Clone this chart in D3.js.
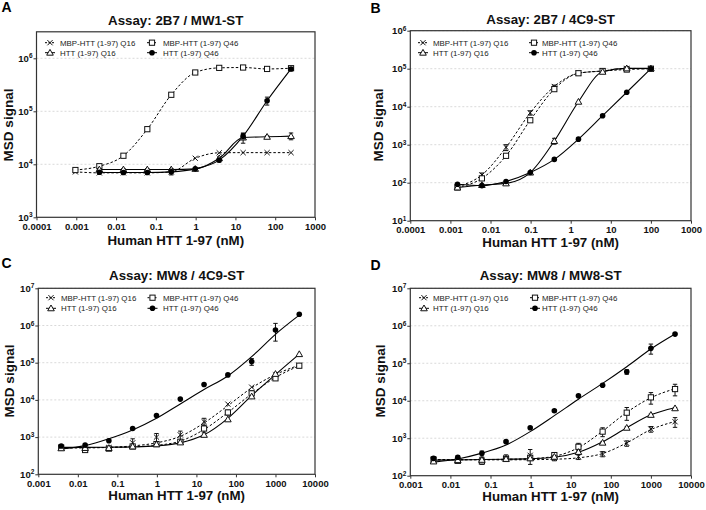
<!DOCTYPE html>
<html><head><meta charset="utf-8">
<script src="https://cdn.jsdelivr.net/npm/d3@7"></script>
<style>body{margin:0;background:#fff}</style>
</head><body><svg id="c" width="706" height="510"></svg>
<script>
// ---------- DATA ----------
const seriesNames = ["MBP-HTT (1-97) Q16", "MBP-HTT (1-97) Q46", "HTT (1-97) Q16", "HTT (1-97) Q46"];
const titles = ["Assay: 2B7 / MW1-ST", "Assay: 2B7 / 4C9-ST", "Assay: MW8 / 4C9-ST", "Assay: MW8 / MW8-ST"];
const panelLetters = ["A", "B", "C", "D"];
const xAxisTitle = "Human HTT 1-97 (nM)";
const yAxisTitle = "MSD signal";

const xTicksAB = [1e-4, 1e-3, 1e-2, 1e-1, 1, 10, 100, 1000];
const xLabelsAB = ["0.0001", "0.001", "0.01", "0.1", "1", "10", "100", "1000"];
const xTicksCD = [1e-3, 1e-2, 1e-1, 1, 10, 100, 1000, 10000];
const xLabelsCD = ["0.001", "0.01", "0.1", "1", "10", "100", "1000", "10000"];
const yTicksA = [1e3, 1e4, 1e5, 1e6];
const yTicksB = [1e1, 1e2, 1e3, 1e4, 1e5, 1e6];
const yTicksCD = [1e2, 1e3, 1e4, 1e5, 1e6, 1e7];

// Panel A
const dosesA = [0.00095, 0.0038, 0.0153, 0.061, 0.244, 0.977, 3.91, 15.6, 62.5, 250];
const mbpQ16A = [7200, 6900, 6900, 6900, 7200, 13000, 16500, 16600, 16600, 16600];
const mbpQ46A = [7800, 9200, 14500, 46000, 205000, 540000, 660000, 670000, 630000, 650000];
const httQ16A = [null, 8000, 8000, 8000, 8000, 8200, 13000, 32000, 33000, 34000];
const httQ46A = [null, 7100, 7000, 7000, 7200, 8200, 12000, 34000, 158000, 630000];
const errHttQ16A = [null, 300, 300, 300, 300, 300, 800, 7000, 1500, 5000];
const errHttQ46A = [null, 300, 300, 300, 900, 300, 1000, 4000, 27000, 40000];

// Panel B
const dosesB = [0.0015, 0.0061, 0.0244, 0.098, 0.39, 1.56, 6.25, 25, 100];
const mbpQ16B = [79, 160, 850, 6900, 34000, 76000, 87000, 102000, 98000];
const mbpQ46B = [75, 130, 510, 4400, 29000, 76000, 87000, 95000, 100000];
const httQ16B = [75, 87, 96, 185, 1250, 13500, 83000, 102000, 102000];
const httQ46B = [91, 84, 108, 185, 410, 1400, 5800, 24000, 100000];
const errMbpQ16B = [0, 20, 150, 900, 3000, 0, 0, 8000, 0];
const errHttQ16B = [0, 0, 0, 0, 220, 0, 0, 0, 0];

// Panels C and D
const dosesCD = [0.0038, 0.0153, 0.061, 0.244, 0.977, 3.91, 15.6, 62.5, 250, 1000, 4000];
const mbpQ16C = [520, 470, 520, 700, 1000, 1150, 2600, 7700, 22000, 47000, 85000];
const mbpQ46C = [520, 450, 490, 560, 650, 750, 1700, 4600, 15000, 38000, 83000];
const httQ16C = [500, 510, 510, 560, 640, 720, 1150, 3000, 12400, 50000, 170000];
const httQ46C = [575, 610, 800, 1700, 3800, 10500, 26000, 47000, 107000, 760000, 2000000];
const fitMbpQ16C = [510, 515, 530, 580, 700, 1050, 2400, 7000, 21000, 48000, 86000];
const fitMbpQ46C = [520, 520, 525, 545, 600, 780, 1600, 4600, 14500, 40000, 83000];
const fitHttQ16C = [530, 530, 535, 545, 580, 700, 1150, 3200, 13000, 48000, 170000];
const fitHttQ46C = [480, 590, 900, 1550, 3200, 7800, 19000, 44000, 145000, 580000, 1900000];
const errMbpQ16C = [0, 0, 0, 200, 250, 300, 600, 0, 0, 0, 0];
const errMbpQ46C = [0, 40, 50, 50, 60, 80, 400, 700, 2500, 0, 0];
const errHttQ46C = [0, 0, 0, 0, 0, 0, 0, 0, 22000, 380000, 0];

const mbpQ16D = [260, 250, 270, 300, 350, 290, 320, 380, 730, 1750, 2750];
const mbpQ46D = [270, 250, 240, 280, 300, 355, 590, 1500, 4800, 12300, 20500];
const httQ16D = [240, 260, 265, 280, 290, 320, 430, 760, 1900, 4200, 6300];
const httQ46D = [290, 310, 395, 810, 1900, 5400, 13500, 26000, 59000, 250000, 600000];
const fitMbpQ16D = [265, 265, 265, 265, 268, 275, 300, 390, 750, 1700, 2800];
const fitMbpQ46D = [270, 270, 270, 275, 285, 330, 560, 1550, 4900, 12000, 21000];
const fitHttQ16D = [260, 265, 270, 275, 285, 310, 420, 800, 1900, 4200, 6500];
const fitHttQ46D = [230, 280, 400, 660, 1500, 4000, 11000, 29000, 81000, 240000, 600000];
const errMbpQ16D = [20, 20, 30, 60, 150, 40, 50, 60, 120, 300, 800];
const errMbpQ46D = [30, 30, 40, 40, 40, 50, 140, 400, 1800, 4200, 7000];
const errHttQ16D = [20, 20, 20, 20, 20, 20, 30, 50, 100, 200, 300];
const errHttQ46D = [30, 30, 60, 40, 100, 300, 500, 1500, 8000, 75000, 20000];

// ---------- STYLE / LAYOUT ----------
const FONT = "'Liberation Sans', Arial, Helvetica, sans-serif";
const kinds = ["x", "sq", "tri", "dot"];
const dashedSeries = [true, true, false, false];

const panels = [
  { letter: panelLetters[0], lp: [1.5, 11.7], title: titles[0], tpos: [175.7, 24.5],
    box: { l: 36.5, r: 315, t: 31.8, b: 217.3 }, xDomain: [1e-4, 1e3], yDomain: [1e3, Math.pow(10, 6.5)],
    xTicks: xTicksAB, xLabels: xLabelsAB, yTicks: yTicksA, xOff: 13, xlabY: 245, ylab: [12.8, 125],
    leg: { x1: 50, t1: 60, x2: 152, t2: 163, y1: 42.7, y2: 52.7 },
    doses: dosesA, values: [mbpQ16A, mbpQ46A, httQ16A, httQ46A], fits: [null, null, null, null],
    errs: [null, null, errHttQ16A, errHttQ46A] },
  { letter: panelLetters[1], lp: [370.5, 13.3], title: titles[1], tpos: [550.6, 23.5],
    box: { l: 410.3, r: 691, t: 30.7, b: 220.7 }, xDomain: [1e-4, 1e3], yDomain: [1e1, 1e6],
    xTicks: xTicksAB, xLabels: xLabelsAB, yTicks: yTicksB, xOff: 12.2, xlabY: 246.8, ylab: [383, 125],
    leg: { x1: 423, t1: 433, x2: 534, t2: 542, y1: 42.7, y2: 52.7 },
    doses: dosesB, values: [mbpQ16B, mbpQ46B, httQ16B, httQ46B], fits: [null, null, null, null],
    errs: [errMbpQ16B, null, errHttQ16B, null] },
  { letter: panelLetters[2], lp: [1.5, 268], title: titles[2], tpos: [176.7, 279.7],
    box: { l: 38.3, r: 315, t: 288.3, b: 474.3 }, xDomain: [1e-3, 1e4], yDomain: [1e2, 1e7],
    xTicks: xTicksCD, xLabels: xLabelsCD, yTicks: yTicksCD, xOff: 13, xlabY: 500, ylab: [13.5, 381],
    leg: { x1: 51, t1: 61, x2: 152.5, t2: 163, y1: 297.7, y2: 308.3 },
    doses: dosesCD, values: [mbpQ16C, mbpQ46C, httQ16C, httQ46C],
    fits: [fitMbpQ16C, fitMbpQ46C, fitHttQ16C, fitHttQ46C],
    errs: [errMbpQ16C, errMbpQ46C, null, errHttQ46C] },
  { letter: panelLetters[3], lp: [370.5, 270], title: titles[3], tpos: [550.6, 279.7],
    box: { l: 410.3, r: 691, t: 288.3, b: 475.7 }, xDomain: [1e-3, 1e4], yDomain: [1e2, 1e7],
    xTicks: xTicksCD, xLabels: xLabelsCD, yTicks: yTicksCD, xOff: 12.4, xlabY: 501, ylab: [384.5, 381],
    leg: { x1: 424, t1: 433, x2: 535, t2: 542, y1: 297.7, y2: 308.3 },
    doses: dosesCD, values: [mbpQ16D, mbpQ46D, httQ16D, httQ46D],
    fits: [fitMbpQ16D, fitMbpQ46D, fitHttQ16D, fitHttQ46D],
    errs: [errMbpQ16D, errMbpQ46D, errHttQ16D, errHttQ46D] }
];

const svg = d3.select("#c").attr("font-family", FONT);
svg.append("rect").attr("width", 706).attr("height", 510).attr("fill", "#fff");

function drawMarker(g, kind, cx, cy) {
  const s = 2.6;
  if (kind === "x") {
    g.append("path").attr("d", `M${cx - s},${cy - s}L${cx + s},${cy + s}M${cx - s},${cy + s}L${cx + s},${cy - s}`)
      .attr("stroke", "#111").attr("stroke-width", 1).attr("fill", "none");
  } else if (kind === "sq") {
    g.append("rect").attr("x", cx - s).attr("y", cy - s).attr("width", 2 * s).attr("height", 2 * s)
      .attr("fill", "#fff").attr("stroke", "#111").attr("stroke-width", 1);
  } else if (kind === "tri") {
    const h = 3.3;
    g.append("path").attr("d", `M${cx},${cy - h}L${cx + h},${cy + h * 0.75}L${cx - h},${cy + h * 0.75}Z`)
      .attr("fill", "#fff").attr("stroke", "#111").attr("stroke-width", 1);
  } else {
    g.append("circle").attr("cx", cx).attr("cy", cy).attr("r", 2.8).attr("fill", "#000");
  }
}

function drawPanel(p) {
  const x = d3.scaleLog().domain(p.xDomain).range([p.box.l, p.box.r]);
  const y = d3.scaleLog().domain(p.yDomain).range([p.box.b, p.box.t]);
  const g = svg.append("g");

  // gridlines
  g.selectAll("line.grid").data(p.yTicks.filter(v => v > p.yDomain[0])).join("line")
    .attr("class", "grid")
    .attr("x1", p.box.l).attr("x2", p.box.r)
    .attr("y1", d => y(d)).attr("y2", d => y(d))
    .attr("stroke", "#cfcfcf").attr("stroke-width", 0.8).attr("stroke-dasharray", "2,2");

  // x axis
  const xa = g.append("g").attr("transform", `translate(0,${p.box.b})`)
    .call(d3.axisBottom(x).tickValues(p.xTicks).tickFormat((d, i) => p.xLabels[i])
      .tickSize(3).tickSizeOuter(0));
  xa.select(".domain").remove();
  xa.selectAll("line").attr("stroke", "#333");
  xa.selectAll("text").attr("font-family", FONT).attr("font-size", 9.5).attr("font-weight", "bold")
    .attr("fill", "#111").attr("y", p.xOff).attr("dy", "0");

  // y axis
  const ya = g.append("g").attr("transform", `translate(${p.box.l},0)`)
    .call(d3.axisLeft(y).tickValues(p.yTicks).tickFormat("").tickSize(3).tickSizeOuter(0));
  ya.select(".domain").remove();
  ya.selectAll("line").attr("stroke", "#333");
  ya.selectAll(".tick").each(function (d) {
    const t = d3.select(this).append("text")
      .attr("x", -4).attr("y", 0).attr("dy", "0.3em").attr("text-anchor", "end")
      .attr("font-family", FONT).attr("font-size", 9.5).attr("font-weight", "bold").attr("fill", "#111");
    t.append("tspan").text("10");
    t.append("tspan").attr("dy", "-0.5em").attr("font-size", 6.5).text(Math.round(Math.log10(d)));
  });

  // frame
  g.append("rect").attr("x", p.box.l).attr("y", p.box.t)
    .attr("width", p.box.r - p.box.l).attr("height", p.box.b - p.box.t)
    .attr("fill", "none").attr("stroke", "#333").attr("stroke-width", 1.2);

  // curves
  const line = d3.line().x(q => x(q.d)).y(q => y(q.v)).curve(d3.curveMonotoneX);
  p.values.forEach((vals, si) => {
    const src = p.fits[si] || vals;
    const pts = p.doses.map((d, i) => ({ d, v: src[i] })).filter(q => q.v != null);
    g.append("path").attr("d", line(pts)).attr("fill", "none").attr("stroke", "#000")
      .attr("stroke-width", dashedSeries[si] ? 1 : 1.1)
      .attr("stroke-dasharray", dashedSeries[si] ? "2.5,2" : null);
  });

  // error bars + markers
  p.values.forEach((vals, si) => {
    const errs = p.errs[si];
    p.doses.forEach((d, i) => {
      const v = vals[i];
      if (v == null) return;
      const e = errs ? errs[i] : 0;
      if (e) {
        const cx = x(d);
        const yl = y(Math.max(v - e, p.yDomain[0] * 1.01)), yh = y(v + e);
        g.append("path").attr("d", `M${cx},${yl}L${cx},${yh}M${cx - 2.2},${yl}L${cx + 2.2},${yl}M${cx - 2.2},${yh}L${cx + 2.2},${yh}`)
          .attr("stroke", "#111").attr("stroke-width", 1).attr("fill", "none");
      }
    });
    p.doses.forEach((d, i) => {
      const v = vals[i];
      if (v == null) return;
      drawMarker(g, kinds[si], x(d), y(v));
    });
  });

  // legend
  const L = p.leg;
  const legPos = [[L.x1, L.t1, L.y1], [L.x2, L.t2, L.y1], [L.x1, L.t1, L.y2], [L.x2, L.t2, L.y2]];
  seriesNames.forEach((name, si) => {
    const [sx, tx, ly] = legPos[si];
    g.append("line").attr("x1", sx - 5).attr("x2", sx + 5).attr("y1", ly).attr("y2", ly)
      .attr("stroke", "#000").attr("stroke-width", 1)
      .attr("stroke-dasharray", dashedSeries[si] ? "2,1.5" : null);
    drawMarker(g, kinds[si], sx, ly);
    g.append("text").attr("x", tx).attr("y", ly + 2.9).attr("font-size", 7.9).attr("fill", "#222").text(name);
  });

  // titles
  g.append("text").attr("x", p.tpos[0]).attr("y", p.tpos[1]).attr("text-anchor", "middle")
    .attr("font-size", 13.3).attr("font-weight", "bold").attr("fill", "#111").text(p.title);
  g.append("text").attr("x", (p.box.l + p.box.r) / 2).attr("y", p.xlabY).attr("text-anchor", "middle")
    .attr("font-size", 13.3).attr("font-weight", "bold").attr("fill", "#111").text(xAxisTitle);
  g.append("text").attr("transform", `translate(${p.ylab[0]},${p.ylab[1]}) rotate(-90)`)
    .attr("text-anchor", "middle").attr("font-size", 13.5).attr("font-weight", "bold").attr("fill", "#111").text(yAxisTitle);
  g.append("text").attr("x", p.lp[0]).attr("y", p.lp[1]).attr("font-size", 14).attr("font-weight", "bold")
    .attr("fill", "#000").text(p.letter);
}

panels.forEach(drawPanel);
</script>
</body></html>
